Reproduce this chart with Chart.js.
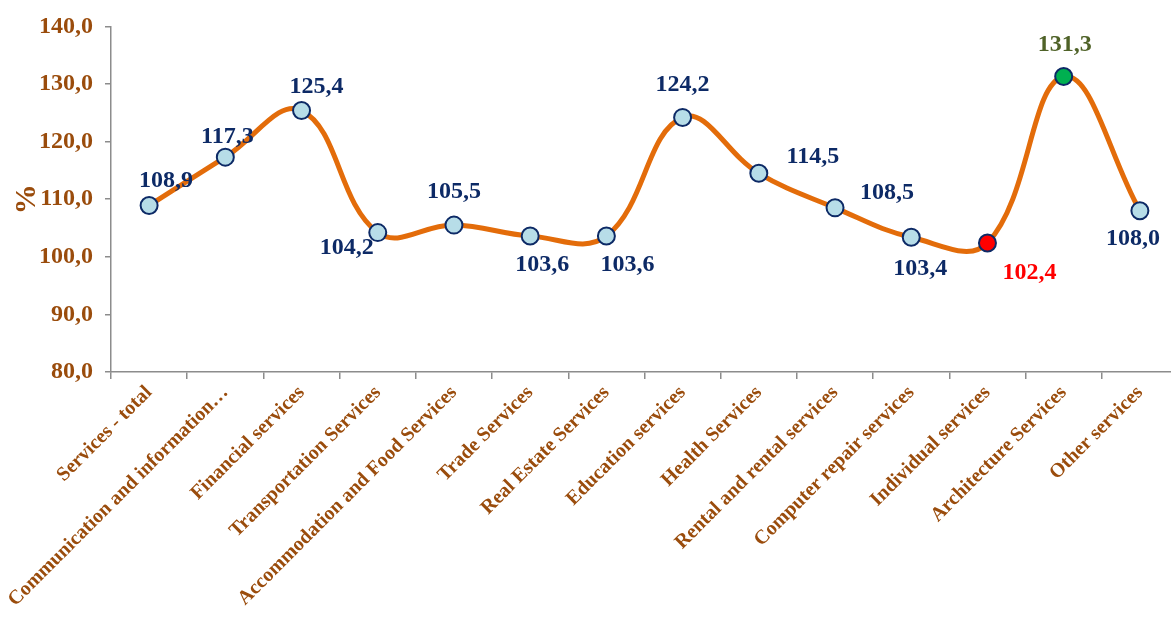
<!DOCTYPE html>
<html>
<head>
<meta charset="utf-8">
<script src="https://cdn.jsdelivr.net/npm/chart.js@4"></script>
<style>
  html, body { margin: 0; padding: 0; background: #fff; overflow: hidden; }
  #wrap { width: 1171px; height: 621px; overflow: hidden; }
</style>
</head>
<body>
<div id="wrap"><canvas id="chart" width="1190" height="621"></canvas></div>
<script>
const categories = [
  "Services - total", "Communication and information\u2026", "Financial services",
  "Transportation Services", "Accommodation and Food Services", "Trade Services",
  "Real Estate Services", "Education services", "Health Services",
  "Rental and rental services", "Computer repair services", "Individual services",
  "Architecture Services", "Other services"
];
const values = [108.9, 117.3, 125.4, 104.2, 105.5, 103.6, 103.6, 124.2, 114.5, 108.5, 103.4, 102.4, 131.3, 108.0];
const yTicks = [80, 90, 100, 110, 120, 130, 140];

// styling
const brown = '#9a4c0c';
const navy = '#0d2a66';
const pointFill = values.map((v, i) => i === 11 ? '#ff0000' : i === 12 ? '#00b050' : '#b7dde8');
const labelColor = values.map((v, i) => i === 11 ? '#ff0000' : i === 12 ? '#4f6228' : navy);
// label offsets from the point (px)
const labelOffsets = [
  [17, -25], [2, -20], [15, -24], [-31, 15], [0, -33], [12, 29], [21, 29],
  [0, -33], [54, -16], [52, -15], [9, 32], [42, 30], [1, -32], [-7, 28]
];

const fmt = v => v.toFixed(1).replace('.', ',');
const serif = '"Liberation Serif", "Times New Roman", serif';

const valueLabels = {
  id: 'valueLabels',
  afterDatasetsDraw(chart) {
    const ctx = chart.ctx;
    const meta = chart.getDatasetMeta(0);
    ctx.save();
    ctx.font = 'bold 24px ' + serif;
    ctx.textAlign = 'center';
    ctx.textBaseline = 'middle';
    meta.data.forEach((pt, i) => {
      ctx.fillStyle = labelColor[i];
      ctx.fillText(fmt(values[i]), pt.x + labelOffsets[i][0], pt.y + labelOffsets[i][1]);
    });
    ctx.restore();
  }
};

new Chart(document.getElementById('chart'), {
  type: 'line',
  data: {
    labels: categories,
    datasets: [{
      data: values,
      borderColor: '#e36c0a',
      borderWidth: 5,
      tension: 0.4,
      pointRadius: 8.5,
      pointBorderWidth: 2,
      pointBorderColor: navy,
      pointBackgroundColor: pointFill,
      fill: false
    }]
  },
  options: {
    responsive: false,
    animation: false,
    layout: { padding: { top: 26, right: 12, left: 0, bottom: 0 } },
    plugins: { legend: { display: false }, tooltip: { enabled: false } },
    scales: {
      x: {
        offset: true,
        grid: { offset: true, drawOnChartArea: false, drawTicks: true, tickLength: 7, color: '#8c8c8c', lineWidth: 1.5 },
        border: { color: '#8c8c8c', width: 1.5 },
        ticks: {
          autoSkip: false, maxRotation: 45, minRotation: 45, padding: 2,
          color: brown, font: { family: serif, size: 20, weight: 'bold' }
        },
        afterFit(scale) { scale.height = 249; }
      },
      y: {
        min: 80, max: 140,
        afterBuildTicks(scale) { scale.ticks = yTicks.map(v => ({ value: v })); },
        grid: { drawOnChartArea: false, drawTicks: true, tickLength: 6, color: '#8c8c8c', lineWidth: 1.5 },
        border: { color: '#8c8c8c', width: 1.5 },
        ticks: {
          padding: 12, color: brown,
          font: { family: serif, size: 24, weight: 'bold' },
          callback: v => fmt(v)
        },
        title: {
          display: true, text: '%', color: brown,
          font: { family: serif, size: 30, weight: 'bold' },
          padding: { top: 9, bottom: 0 }
        },
        afterFit(scale) { scale.width = 111; }
      }
    }
  },
  plugins: [valueLabels]
});
</script>
</body>
</html>
